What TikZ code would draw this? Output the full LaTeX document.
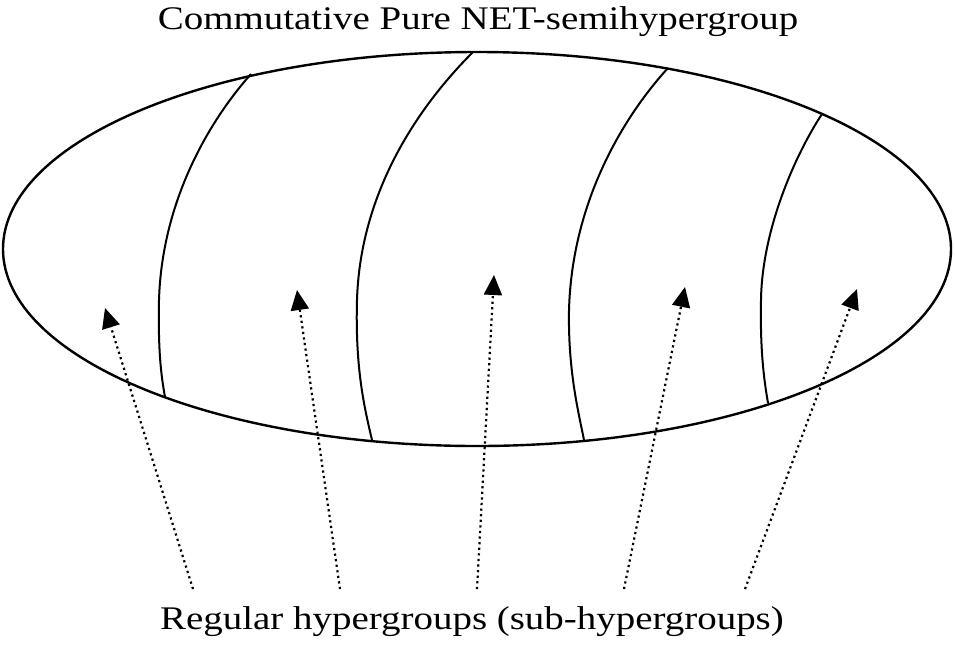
\documentclass[tikz,border=0pt]{standalone}
\usepackage{fontspec}
\setmainfont{Liberation Serif}[FakeStretch=1.18]
\usepackage{tikz}
\usetikzlibrary{arrows.meta}

\tikzset{
  outline/.style={line width=2.4pt},
  divider/.style={line width=2pt},
  pointer/.style={line width=2.2pt, dash pattern=on 2.2pt off 3.4pt,
    -{Triangle[length=20pt,width=18pt]}},
  caption/.style={font=\fontsize{33}{38}\selectfont, inner sep=0pt}
}

\begin{document}
\begin{tikzpicture}[x=1pt,y=-1pt]
  \useasboundingbox (0,0) rectangle (955,649);
  % the semihypergroup
  \draw[outline] (477,249) ellipse [x radius=474, y radius=197];
  % the parts
  \draw[divider] (251,74) .. controls (210,120) and (162,200) .. (159,300)
                 .. controls (158,350) and (161,375) .. (165,397);
  \draw[divider] (473,52) .. controls (410,115) and (360,200) .. (357,300)
                 .. controls (355,370) and (365,410) .. (372,440);
  \draw[divider] (668,68) .. controls (625,115) and (572,200) .. (569,310)
                 .. controls (568,370) and (578,410) .. (584,440);
  \draw[divider] (822,114) .. controls (795,155) and (762,230) .. (761,300)
                 .. controls (760,350) and (764,380) .. (768,403);
  % captions
  \node[caption] (whole) at (478,22) {Commutative Pure NET-semihypergroup};
  \node[caption] (parts) at (472,622) {Regular hypergroups (sub-hypergroups)};
  % arrows from the caption to every part
  \foreach \i/\tx/\hx/\hy in {1/193/105/308, 2/340/297/290, 3/477/494/275,
                              4/624/685/287, 5/745/857/289}{
    \coordinate (tail\i) at (\tx,589);
    \coordinate (head\i) at (\hx,\hy);
    \draw[pointer] (tail\i) -- (head\i);
  }
\end{tikzpicture}
\end{document}
